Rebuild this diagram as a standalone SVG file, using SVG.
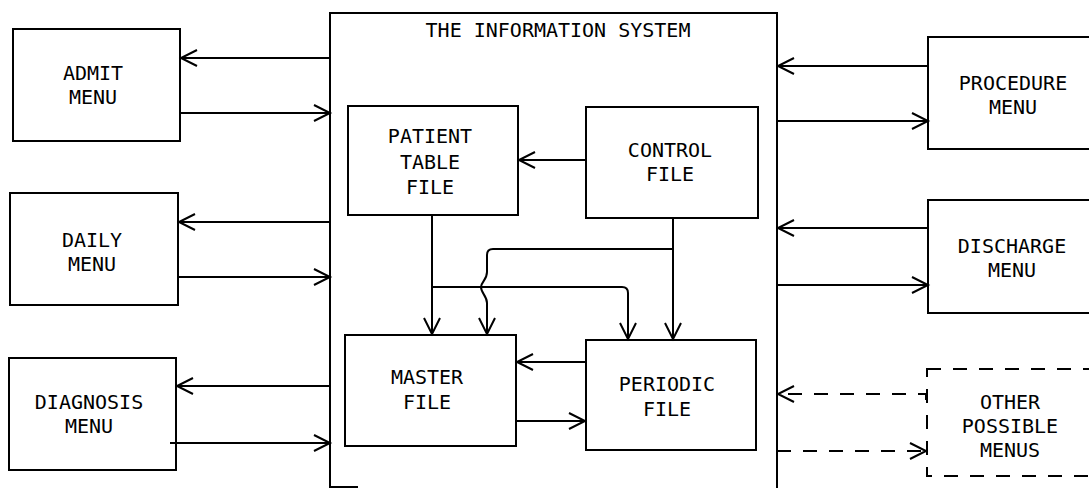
<svg xmlns="http://www.w3.org/2000/svg" width="1089" height="488" viewBox="0 0 1089 488">
<style>
.box{fill:none;stroke:#000;stroke-width:2}
.dbox{fill:none;stroke:#000;stroke-width:2;stroke-dasharray:14 12}
.t{font-family:"DejaVu Sans Mono","Liberation Mono",monospace;font-size:20px;fill:#000;text-anchor:middle}
.c{fill:none;stroke:#000;stroke-width:2;marker-end:url(#ah)}
.cd{fill:none;stroke:#000;stroke-width:2;stroke-dasharray:14 12;marker-end:url(#ah)}
</style>
<defs>
<marker id="ah" viewBox="-17 -10 19 20" refX="0" refY="0" markerWidth="19" markerHeight="20" markerUnits="userSpaceOnUse" orient="auto" overflow="visible">
<path d="M-16,-8 L0,0 L-16,8" fill="none" stroke="#000" stroke-width="2"/>
</marker>
</defs>
<rect width="1089" height="488" fill="#fff"/>
<g id="system">
<path class="box" d="M358,487 L330,487 L330,13 L777,13 L777,488"/>
<text class="t" x="558" y="37">THE INFORMATION SYSTEM</text>
</g>
<g id="admit"><rect class="box" x="13" y="29" width="167" height="112"/><text class="t" x="93" y="80">ADMIT</text><text class="t" x="93" y="104">MENU</text></g>
<g id="daily"><rect class="box" x="10" y="193" width="168" height="112"/><text class="t" x="92" y="247">DAILY</text><text class="t" x="92" y="271">MENU</text></g>
<g id="diagnosis"><rect class="box" x="9" y="358" width="167" height="112"/><text class="t" x="89" y="409">DIAGNOSIS</text><text class="t" x="89" y="433">MENU</text></g>
<g id="patient"><rect class="box" x="348" y="106" width="170" height="109"/><text class="t" x="430" y="143">PATIENT</text><text class="t" x="430" y="169">TABLE</text><text class="t" x="430" y="194">FILE</text></g>
<g id="control"><rect class="box" x="586" y="107" width="172" height="111"/><text class="t" x="670" y="157">CONTROL</text><text class="t" x="670" y="181">FILE</text></g>
<g id="master"><rect class="box" x="345" y="335" width="171" height="111"/><text class="t" x="427" y="384">MASTER</text><text class="t" x="427" y="409">FILE</text></g>
<g id="periodic"><rect class="box" x="586" y="340" width="170" height="110"/><text class="t" x="667" y="391">PERIODIC</text><text class="t" x="667" y="416">FILE</text></g>
<g id="procedure"><rect class="box" x="928" y="37" width="170" height="112"/><text class="t" x="1013" y="90">PROCEDURE</text><text class="t" x="1013" y="114">MENU</text></g>
<g id="discharge"><rect class="box" x="928" y="200" width="170" height="113"/><text class="t" x="1012" y="253">DISCHARGE</text><text class="t" x="1012" y="277">MENU</text></g>
<g id="other"><rect class="dbox" x="927" y="369" width="170" height="107"/><text class="t" x="1010" y="409">OTHER</text><text class="t" x="1010" y="433">POSSIBLE</text><text class="t" x="1010" y="457">MENUS</text></g>
<g id="connectors">
<path class="c" d="M330,58 L181,58"/>
<path class="c" d="M180,113 L330,113"/>
<path class="c" d="M330,222 L179,222"/>
<path class="c" d="M178,277 L330,277"/>
<path class="c" d="M330,386 L177,386"/>
<path class="c" d="M170,443 L330,443"/>
<path class="c" d="M928,66 L778,66"/>
<path class="c" d="M777,121 L928,121"/>
<path class="c" d="M928,228 L778,228"/>
<path class="c" d="M777,285 L928,285"/>
<path class="cd" d="M926,400 L926,394 L778,394"/>
<path class="cd" d="M777,451 L926,451"/>
<path class="c" d="M586,160 L519,160"/>
<path class="c" d="M432,215 L432,334"/>
<path class="c" d="M432,287 L622,287 Q628,287 628,293 L628,339"/>
<path class="c" d="M673,218 L673,339"/>
<path class="c" d="M673,249 L493,249 Q487,249 487,255 L487,272 C487,280 481,282 481,287 C481,293 487,296 487,303 L487,334"/>
<path class="c" d="M586,362 L517,362"/>
<path class="c" d="M516,421 L585,421"/>
</g>
</svg>
